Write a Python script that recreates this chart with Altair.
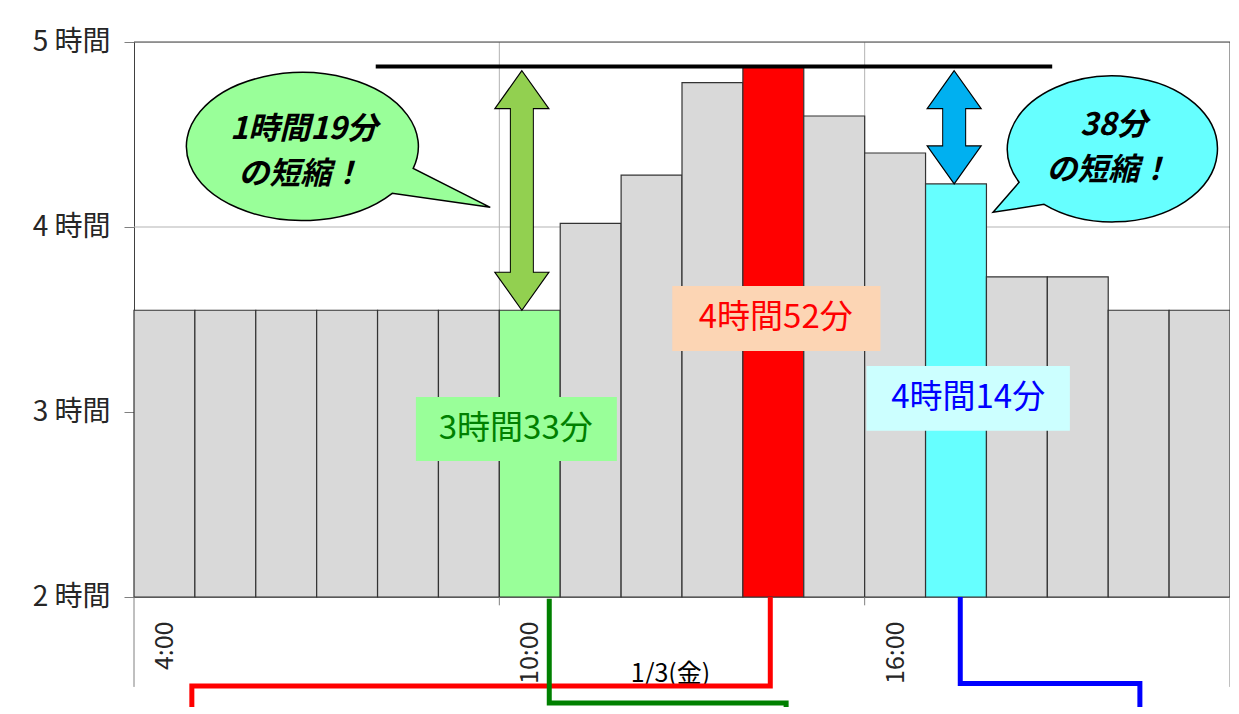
import altair as alt
import pandas as pd

FONT = "Noto Sans CJK JP"

# ---- data -------------------------------------------------------------
hours = [4, 5, 6, 7, 8, 9, 10, 11, 12, 13, 14, 15, 16, 17, 18, 19, 20, 21]
durations = [3.55, 3.55, 3.55, 3.55, 3.55, 3.55, 3.55, 4.02, 4.28, 4.78,
             4.867, 4.60, 4.40, 4.233, 3.73, 3.73, 3.55, 3.55]
bar_colors = ["#d9d9d9", "#d9d9d9", "#d9d9d9", "#d9d9d9", "#d9d9d9", "#d9d9d9",
              "#99ff99", "#d9d9d9", "#d9d9d9", "#d9d9d9", "#ff0000", "#d9d9d9",
              "#d9d9d9", "#66ffff", "#d9d9d9", "#d9d9d9", "#d9d9d9", "#d9d9d9"]
x_label_hours = [4.5, 10.5, 16.5]
y_ticks = [2, 3, 4, 5]
grid_hours = [10, 16]
grid_values = [3, 4]
date_label = "1/3(金)"

peak_value = 4.867          # 4時間52分
arrow_top = 4.845
arrow_x = [10.37, 17.47]
arrow_bottom = [3.55, 4.233]
arrow_fill = ["#92d050", "#00b0f0"]

bubble_x = [6.73, 20.08]
bubble_y = [4.42, 4.42]
bubble_fill = ["#99ff99", "#66ffff"]
bubble_lines = ["1時間19分", "の短縮！", "38分", "の短縮！"]
bubble_line_x = [6.79, 6.73, 20.09, 20.00]
bubble_line_y = [4.522, 4.281, 4.548, 4.303]

box_text = ["3時間33分", "4時間52分", "4時間14分"]
box_x1 = [8.63, 12.84, 16.03]
box_x2 = [11.93, 16.26, 19.37]
box_y1 = [2.735, 3.33, 2.899]
box_y2 = [3.081, 3.681, 3.249]
box_fill = ["#99ff99", "#fcd5b4", "#ccffff"]
box_text_x = [10.27, 14.54, 17.70]
box_text_y = [2.908, 3.508, 3.076]
box_text_color = ["#008000", "#ff0000", "#0000ff"]

conn_name = ["red"] * 4 + ["green"] * 4 + ["blue"] * 4
conn_idx = [0, 1, 2, 3] * 3
conn_x = [14.45, 14.45, 4.95, 4.95,
          10.82, 10.82, 14.71, 14.71,
          17.57, 17.57, 20.52, 20.52]
conn_y = [2.0, 1.519, 1.519, 1.25,
          1.99, 1.427, 1.427, 1.25,
          2.0, 1.532, 1.532, 1.25]
conn_color = ["#ff0000"] * 4 + ["#008000"] * 4 + ["#0000ff"] * 4

long_tick_x = [4, 22]
short_tick_x = [10, 16]

# ---- frames -----------------------------------------------------------
bars_df = pd.DataFrame({"h": hours, "v": durations, "c": bar_colors})
bars_df["h2"] = bars_df["h"] + 1
bars_df["base"] = 2

vgrid_df = pd.DataFrame({"x": grid_hours, "y0": [2] * len(grid_hours), "y1": [5] * len(grid_hours)})
hgrid_df = pd.DataFrame({"y": grid_values, "x0": [4] * len(grid_values), "x1": [22] * len(grid_values)})
border_df = pd.DataFrame({"x0": [4, 22], "x1": [22, 22], "y0": [5, 2], "y1": [5, 5]})
hline_df = pd.DataFrame({"x1": [7.97], "x2": [19.08], "y": [peak_value]})
arrow_df = pd.DataFrame({"x": arrow_x, "top": [arrow_top] * 2, "bottom": arrow_bottom, "c": arrow_fill})
bubble_df = pd.DataFrame({"x": bubble_x, "y": bubble_y, "c": bubble_fill})
btext_df = pd.DataFrame({"x": bubble_line_x, "y": bubble_line_y, "t": bubble_lines})
box_df = pd.DataFrame({"x1": box_x1, "x2": box_x2, "y1": box_y1, "y2": box_y2, "c": box_fill,
                       "tx": box_text_x, "ty": box_text_y, "t": box_text, "tc": box_text_color})
conn_df = pd.DataFrame({"n": conn_name, "i": conn_idx, "x": conn_x, "y": conn_y, "c": conn_color})
ticks_df = pd.DataFrame({"x": long_tick_x + short_tick_x,
                         "y0": [2] * 4,
                         "y1": [1.514, 1.514, 1.955, 1.955]})

xs = alt.Scale(domain=[4, 22], nice=False, zero=False)
ys = alt.Scale(domain=[2, 5], nice=False, zero=False)

x_axis = alt.Axis(values=x_label_hours, labelExpr="floor(datum.value) + ':00'",
                  labelAngle=270, ticks=False, tickSize=0, labelPadding=24,
                  grid=False, domainColor="#808080", labelFontSize=25,
                  labelColor="#262626", labelFont=FONT,
                  titleX=536, titleY=76, titleBaseline="middle", titleAlign="center",
                  titleFontSize=25, titleFontWeight="normal", titleColor="#000000",
                  titleFont=FONT)
y_axis = alt.Axis(values=y_ticks, labelExpr="datum.value + ' 時間'", tickSize=10,
                  tickColor="#808080", labelPadding=14, labelFontSize=28,
                  labelColor="#262626", labelFont=FONT, grid=False,
                  domainColor="#404040")


def X(f):
    return alt.X(f, type="quantitative", scale=xs, axis=x_axis, title=date_label)


def Y(f):
    return alt.Y(f, type="quantitative", scale=ys, axis=y_axis, title=None)


hgrid = alt.Chart(hgrid_df).mark_rule(color="#b3b3b3", strokeWidth=1).encode(
    x=X("x0"), x2=alt.X2("x1"), y=Y("y"))
vgrid = alt.Chart(vgrid_df).mark_rule(color="#b3b3b3", strokeWidth=1).encode(
    x=X("x"), y=Y("y0"), y2=alt.Y2("y1"))
border = alt.Chart(border_df).mark_rule(color="#404040", strokeWidth=1).encode(
    x=X("x0"), x2=alt.X2("x1"), y=Y("y0"), y2=alt.Y2("y1"))

bars = alt.Chart(bars_df).mark_rect(stroke="#333333", strokeWidth=1.2).encode(
    x=X("h"), x2=alt.X2("h2"),
    y=Y("v"), y2=alt.Y2("base"),
    fill=alt.Fill("c:N", scale=None))

hline = alt.Chart(hline_df).mark_rule(color="#000000", strokeWidth=4).encode(
    x=X("x1"), x2=alt.X2("x2"), y=Y("y"))

arrow_outline = alt.Chart(arrow_df).mark_rule(color="#000000", strokeWidth=24,
                                              yOffset=36, y2Offset=-36).encode(
    x=X("x"), y=Y("top"), y2=alt.Y2("bottom"))
head_up = alt.Chart(arrow_df).mark_point(shape="M0,0L-27,38L27,38Z", size=4, filled=True,
                                         opacity=1, stroke="#000000", strokeWidth=1.2).encode(
    x=X("x"), y=Y("top"), fill=alt.Fill("c:N", scale=None))
head_down = alt.Chart(arrow_df).mark_point(shape="M0,0L-27,-38L27,-38Z", size=4, filled=True,
                                           opacity=1, stroke="#000000", strokeWidth=1.2).encode(
    x=X("x"), y=Y("bottom"), fill=alt.Fill("c:N", scale=None))
arrow_shaft = alt.Chart(arrow_df).mark_rule(strokeWidth=22, yOffset=36, y2Offset=-36).encode(
    x=X("x"), y=Y("top"), y2=alt.Y2("bottom"), color=alt.Color("c:N", scale=None))

bubble_green = alt.Chart(bubble_df.iloc[[0]]).mark_point(
    shape="M113,19 A116,74 0 1 0 92,44 L190,58 Z", size=4, filled=True, opacity=1,
    stroke="#000000", strokeWidth=1.5).encode(
    x=X("x"), y=Y("y"), fill=alt.Fill("c:N", scale=None))
bubble_cyan = alt.Chart(bubble_df.iloc[[1]]).mark_point(
    shape="M-94,33 A105,73 0 1 1 -69,55 L-120,63 Z", size=4, filled=True, opacity=1,
    stroke="#000000", strokeWidth=1.5).encode(
    x=X("x"), y=Y("y"), fill=alt.Fill("c:N", scale=None))
bubble_text = alt.Chart(btext_df).mark_text(font=FONT, fontSize=31, fontWeight="bold",
                                            fontStyle="italic", color="#000000",
                                            align="center", baseline="middle").encode(
    x=X("x"), y=Y("y"), text="t:N")

boxes = alt.Chart(box_df).mark_rect().encode(
    x=X("x1"), x2=alt.X2("x2"), y=Y("y1"), y2=alt.Y2("y2"), fill=alt.Fill("c:N", scale=None))
box_label = alt.Chart(box_df).mark_text(font=FONT, fontSize=33, align="center",
                                        baseline="middle").encode(
    x=X("tx"), y=Y("ty"), text="t:N", color=alt.Color("tc:N", scale=None))

connectors = alt.Chart(conn_df).mark_line(strokeWidth=5).encode(
    x=X("x"), y=Y("y"), detail="n:N", order=alt.Order("i:Q"),
    color=alt.Color("c:N", scale=None))

axis_ticks = alt.Chart(ticks_df).mark_rule(color="#808080", strokeWidth=1).encode(
    x=X("x"), y=Y("y0"), y2=alt.Y2("y1"))

chart = alt.layer(
    hgrid, vgrid, border, bars, hline, arrow_outline, head_up, head_down, arrow_shaft,
    bubble_green, bubble_cyan, bubble_text, boxes, box_label, connectors, axis_ticks
).properties(
    width=1096, height=555,
    padding={"left": 126, "top": 34, "right": 0, "bottom": 110},
    autosize=alt.AutoSizeParams(type="none"),
).configure_view(stroke="#404040", strokeWidth=1).configure(font=FONT, background="#ffffff")

chart.save("out.html", embed_options={"renderer": "svg", "actions": False})
